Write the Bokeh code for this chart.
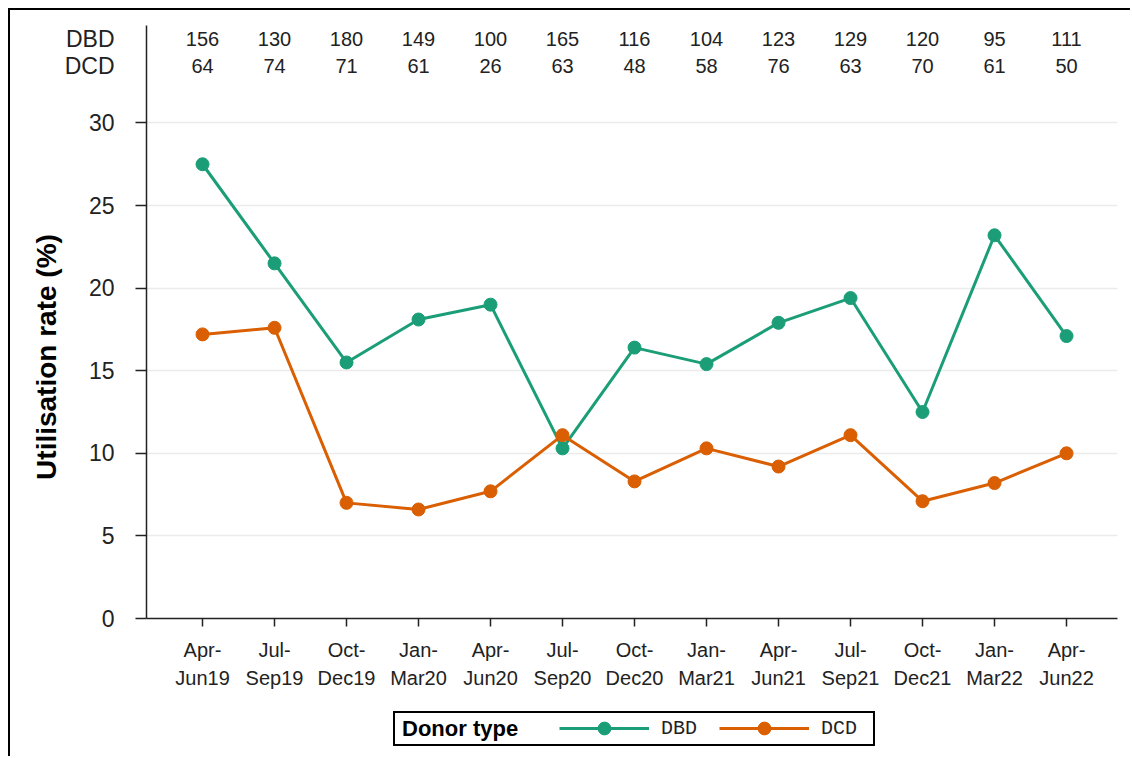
from bokeh.plotting import figure
from bokeh.layouts import column
from bokeh.models import Legend, LegendItem, FixedTicker, Range1d, LinearAxis
from bokeh.core.properties import value
from bokeh.embed import file_html
from bokeh.resources import INLINE

periods = ["Apr-\nJun19", "Jul-\nSep19", "Oct-\nDec19", "Jan-\nMar20", "Apr-\nJun20",
           "Jul-\nSep20", "Oct-\nDec20", "Jan-\nMar21", "Apr-\nJun21", "Jul-\nSep21",
           "Oct-\nDec21", "Jan-\nMar22", "Apr-\nJun22"]
dbd_rate = [27.5, 21.5, 15.5, 18.1, 19.0, 10.3, 16.4, 15.4, 17.9, 19.4, 12.5, 23.2, 17.1]
dcd_rate = [17.2, 17.6, 7.0, 6.6, 7.7, 11.1, 8.3, 10.3, 9.2, 11.1, 7.1, 8.2, 10.0]
dbd_n = [156, 130, 180, 149, 100, 165, 116, 104, 123, 129, 120, 95, 111]
dcd_n = [64, 74, 71, 61, 26, 63, 48, 58, 76, 63, 70, 61, 50]
y_ticks = [0, 5, 10, 15, 20, 25, 30]
row_labels = ["DBD", "DCD"]
y_title = "Utilisation rate (%)"

GREEN = "#1b9e77"
ORANGE = "#d95f02"
TXT = "#222222"
FONT = "Liberation Sans"

xs = list(range(len(periods)))
row_y = [35.06, 33.42]  # vertical positions of the count rows (data units)

p = figure(width=1122, height=685, x_range=Range1d(-0.778, 12.708), y_range=Range1d(0, 35.9),
           output_backend="svg", toolbar_location=None,
           min_border_left=136, min_border_top=15, min_border_right=15, min_border_bottom=77)
p.styles = {"border-top": "2px solid black", "border-left": "2px solid black"}
p.outline_line_color = None
p.background_fill_color = "white"
p.border_fill_color = "white"

# x axis
xa = p.xaxis[0]
xa.ticker = FixedTicker(ticks=xs)
xa.major_label_overrides = {i: lab for i, lab in enumerate(periods)}
xa.major_tick_out = 8
xa.major_tick_in = 0
xa.major_tick_line_color = "#222222"
xa.major_tick_line_width = 1.5
xa.minor_tick_line_color = None
xa.major_label_text_font_size = "20px"
xa.major_label_text_line_height = 1.3
xa.major_label_standoff = 12

# y axis: numeric ticks (with marks) plus the count-row labels (no marks)
ya = p.yaxis[0]
ya.ticker = FixedTicker(ticks=y_ticks + row_y, minor_ticks=y_ticks)
ya.major_label_overrides = {row_y[0]: row_labels[0], row_y[1]: row_labels[1]}
ya.major_tick_out = 0
ya.major_tick_in = 0
ya.major_tick_line_color = None
ya.minor_tick_out = 11
ya.minor_tick_in = 0
ya.minor_tick_line_color = "#222222"
ya.minor_tick_line_width = 1.5
ya.major_label_text_font_size = "23px"
ya.major_label_text_align = "right"
ya.major_label_standoff = 21

for ax in (xa, ya):
    ax.axis_line_color = "#222222"
    ax.axis_line_width = 1.5
    ax.major_label_text_font = FONT
    ax.major_label_text_color = TXT

# axis carrying the y title; trailing no-break spaces nudge its centre down
ta = LinearAxis(ticker=FixedTicker(ticks=[]),
                axis_label=y_title + "\u00a0" * 9, axis_line_color=None,
                major_tick_line_color=None, minor_tick_line_color=None,
                axis_label_text_font=FONT, axis_label_text_font_size="28px",
                axis_label_text_font_style="bold", axis_label_text_color="black",
                axis_label_standoff=0)
p.add_layout(ta, "left")

p.xgrid.visible = False
p.ygrid.ticker = FixedTicker(ticks=y_ticks[1:])
p.ygrid.grid_line_color = "#ebebeb"
p.ygrid.grid_line_width = 1.5

# series
p.line(xs, dbd_rate, line_color=GREEN, line_width=3)
p.scatter(xs, dbd_rate, size=13, color=GREEN)
p.line(xs, dcd_rate, line_color=ORANGE, line_width=3)
p.scatter(xs, dcd_rate, size=13, color=ORANGE)

# count table at top
for counts, yy in ((dbd_n, row_y[0]), (dcd_n, row_y[1])):
    p.text(x=xs, y=[yy] * len(xs), text=[str(n) for n in counts], text_align="center",
           text_baseline="middle", text_font=value(FONT), text_font_size="20px",
           text_color=TXT)

# legend strip below the chart (its frame is aligned with the chart frame)
lf = figure(width=1122, height=63, x_range=Range1d(0, 1122), y_range=Range1d(0, 63),
            output_backend="svg", toolbar_location=None, min_border=0,
            x_axis_location=None, y_axis_location=None)
lf.styles = {"border-left": "2px solid black"}
lf.grid.visible = False
lf.outline_line_color = None
lf.background_fill_color = "white"
lf.border_fill_color = "white"

# hidden copies of the series: used only as legend glyph sources
l1 = lf.line(xs, dbd_rate, line_color=GREEN, line_width=3, visible=False)
m1 = lf.scatter(xs, dbd_rate, size=13, color=GREEN, visible=False)
l2 = lf.line(xs, dcd_rate, line_color=ORANGE, line_width=3, visible=False)
m2 = lf.scatter(xs, dcd_rate, size=13, color=ORANGE, visible=False)
blank = lf.scatter(x=[], y=[], size=1, alpha=0)

box = Legend(items=[LegendItem(label="", renderers=[blank])], location=(247, 10),
             glyph_width=478, glyph_height=31, padding=0, margin=0, label_standoff=0,
             label_width=0, label_height=0, border_line_color="black", border_line_width=2,
             border_line_alpha=1.0, background_fill_color="white", background_fill_alpha=1.0)
title = Legend(items=[LegendItem(label="Donor type", renderers=[blank])], location=(256, 14),
               glyph_width=0, glyph_height=20, padding=0, margin=0, label_standoff=0,
               label_text_font=FONT, label_text_font_size="22px", label_text_font_style="bold",
               label_text_color="black", border_line_color=None, background_fill_alpha=0)
series = Legend(items=[LegendItem(label=row_labels[0], renderers=[l1, m1]),
                       LegendItem(label=row_labels[1], renderers=[l2, m2])],
                orientation="horizontal", location=(413, 12),
                label_text_font="Liberation Mono", label_text_font_size="20px",
                label_text_color=TXT, glyph_width=90, glyph_height=32, label_standoff=12,
                spacing=22, padding=0, margin=0, border_line_color=None,
                background_fill_alpha=0, inactive_fill_alpha=0)
for lg in (box, title, series):
    lf.add_layout(lg, "center")

layout = column(p, lf, spacing=0)
layout.styles = {"margin-left": "8px", "margin-top": "8px"}

open("out.html", "w").write(file_html(layout, INLINE))
